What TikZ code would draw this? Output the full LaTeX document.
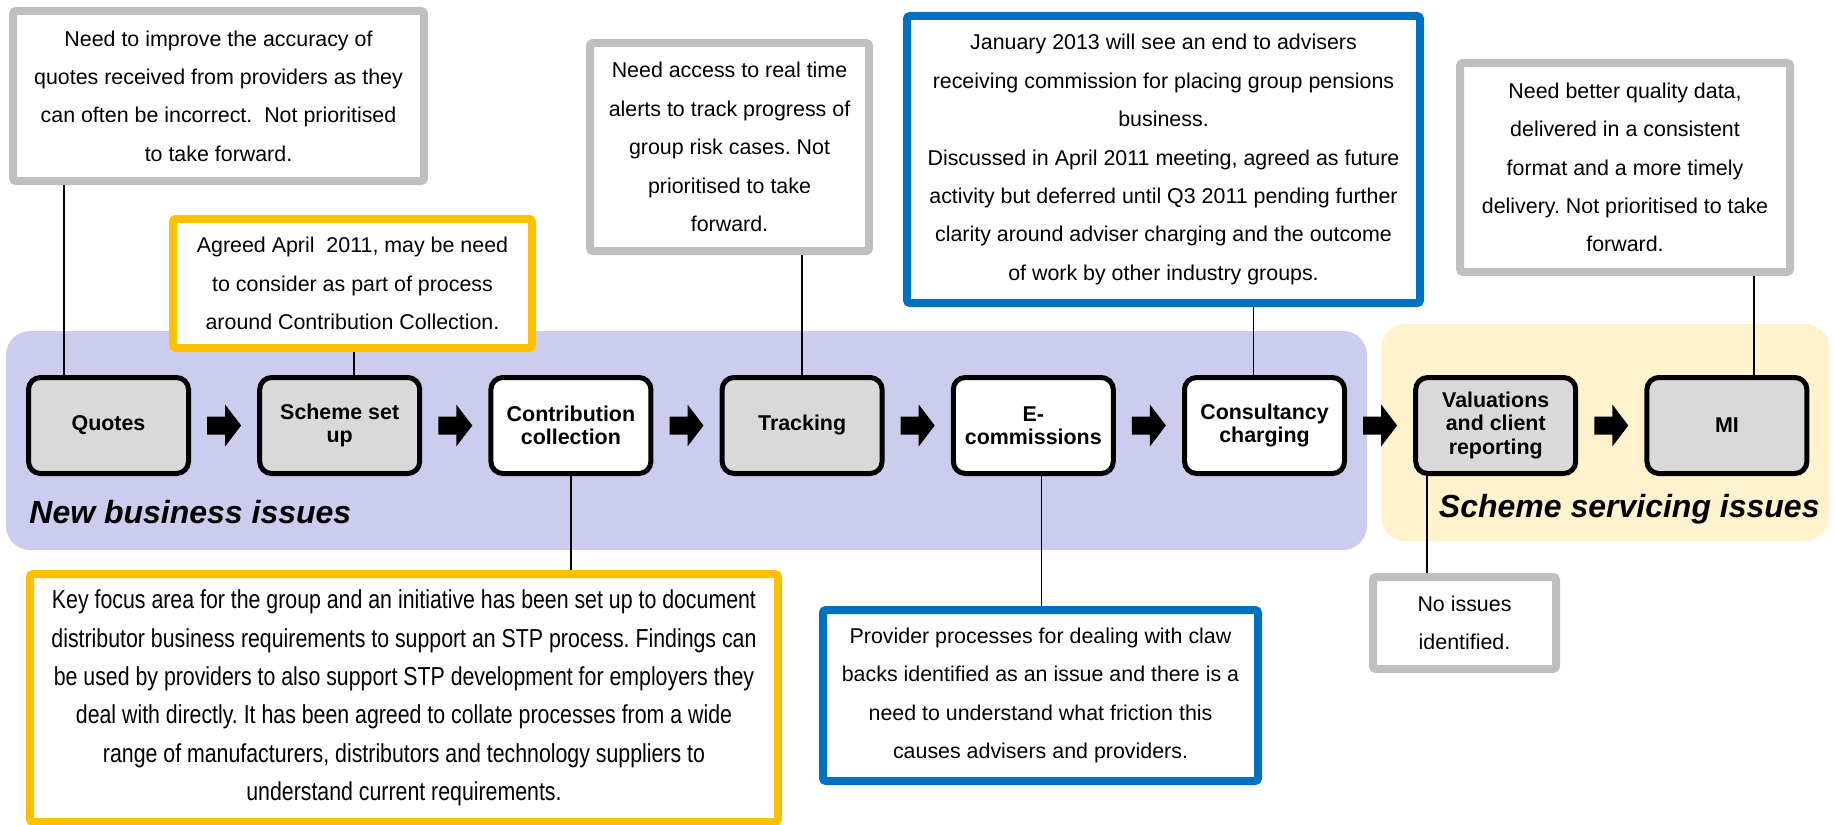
\documentclass[tikz,border=0pt]{standalone}
\usepackage{fontspec}
\setmainfont{Liberation Sans}
\newfontfamily\narrowfont[FakeStretch=0.82]{Liberation Sans}
\usepackage{tikz}
\usetikzlibrary{calc,positioning}
\definecolor{lilas}{RGB}{204,204,238}
\definecolor{creme}{RGB}{255,242,204}
\definecolor{ambre}{RGB}{255,192,0}
\definecolor{bleu}{RGB}{0,112,192}
\definecolor{gris}{RGB}{191,191,191}
\definecolor{grisclair}{RGB}{217,217,217}
\frenchspacing

\begin{document}
\begin{tikzpicture}[x=0.5pt,y=-0.5pt,node distance=33.1pt,
  etape/.style={draw,line width=2.5pt,rounded corners=6pt,minimum width=80pt,
    minimum height=48pt,inner sep=0pt,align=center,
    font=\fontsize{10.7}{11.6}\selectfont\bfseries},
  etapegrise/.style={etape,fill=grisclair},
  etapeblanche/.style={etape,fill=white},
  note/.style={line width=4pt,rounded corners=1.5pt,fill=white,inner sep=0pt,
    align=center,font=\fontsize{10.7}{19.2}\selectfont},
  lien/.style={line width=0.8pt},
  zone/.style={inner sep=0pt,font=\fontsize{16}{19}\selectfont\bfseries\itshape}]
\useasboundingbox (0,0) rectangle (1835,824);
\def\pointer{(-17,-9)-|(1,-21)--(17,0)--(1,21)|-(-17,9)--cycle}

% les deux zones
\fill[lilas,rounded corners=12pt] (6,331) rectangle (1367,550);
\fill[creme,rounded corners=12pt] (1381,324) rectangle (1829,541);
\node[zone,anchor=west] (nb) at (29,512) {New business issues};
\node[zone,anchor=east] (ss) at (1820,509) {Scheme servicing issues};

% les etapes
\node[etapegrise] (quotes) at (108.5,425.5) {Quotes};
\node[etapegrise,right=of quotes] (scheme) {Scheme set\\up};
\node[etapeblanche,right=of scheme] (contrib) {Contribution\\collection};
\node[etapegrise,right=of contrib] (tracking) {Tracking};
\node[etapeblanche,right=of tracking] (ecomm) {E-\\commissions};
\node[etapeblanche,right=of ecomm] (consult) {Consultancy\\charging};
\node[etapegrise,right=of consult] (valuations) {Valuations\\and client\\reporting};
\node[etapegrise,right=of valuations] (mi) {MI};

\foreach \a/\b in {quotes/scheme,scheme/contrib,contrib/tracking,tracking/ecomm,
    ecomm/consult,consult/valuations,valuations/mi}
  \fill[shift={($(\a.east)!0.5!(\b.west)$)}] \pointer;

% les remarques
\node[note,draw=gris,minimum width=205.5pt,minimum height=85pt] (accuracy) at (218.5,96)
  {Need to improve the accuracy of\\quotes received from providers as they\\
   can often be incorrect.\ \ Not prioritised\\to take forward.};
\node[note,draw=ambre,minimum width=179.5pt,minimum height=64.5pt] (agreed) at (352.5,283.5)
  {Agreed April\ \ 2011, may be need\\to consider as part of process\\
   around Contribution Collection.};
\node[note,draw=gris,minimum width=139.5pt,minimum height=104pt] (alerts) at (729.5,147)
  {Need access to real time\\alerts to track progress of\\group risk cases. Not\\
   prioritised to take\\forward.};
\node[note,draw=bleu,minimum width=256.5pt,minimum height=143.5pt] (adviser) at (1163.5,159.5)
  {January 2013 will see an end to advisers\\
   receiving commission for placing group pensions\\business.\\
   Discussed in April 2011 meeting, agreed as future\\
   activity but deferred until Q3 2011 pending further\\
   clarity around adviser charging and the outcome\\
   of work by other industry groups.};
\node[note,draw=gris,minimum width=165pt,minimum height=104.5pt] (quality) at (1625,167.5)
  {Need better quality data,\\delivered in a consistent\\format and a more timely\\
   delivery. Not prioritised to take\\forward.};
\node[note,draw=ambre,minimum width=374pt,minimum height=124pt,
  font=\narrowfont\fontsize{13}{19.2}\selectfont] (stp) at (404,698)
  {Key focus area for the group and an initiative has been set up to document\\
   distributor business requirements to support an STP process. Findings can\\
   be used by providers to also support STP development for employers they\\
   deal with directly. It has been agreed to collate processes from a wide\\
   range of manufacturers, distributors and technology suppliers to\\
   understand current requirements.};
\node[note,draw=bleu,minimum width=217.5pt,minimum height=85.5pt] (clawback) at (1040.5,695.5)
  {Provider processes for dealing with claw\\
   backs identified as an issue and there is a\\
   need to understand what friction this\\causes advisers and providers.};
\node[note,draw=gris,minimum width=91.5pt,minimum height=46pt] (noissues) at (1464.5,623)
  {No issues\\identified.};

% les liens
\coordinate (q) at ([xshift=-22.25pt]quotes.north);
\coordinate (s) at ([xshift=7pt]scheme.north);
\coordinate (e) at ([xshift=4pt]ecomm.south);
\coordinate (c) at ([xshift=-5.5pt]consult.north);
\coordinate (v) at ([xshift=-34.25pt]valuations.south);
\coordinate (m) at ([xshift=13.5pt]mi.north);
\draw[lien] (q) -- (q |- accuracy.south);
\draw[lien] (s) -- (s |- agreed.south);
\draw[lien] (contrib.south) -- (contrib.south |- stp.north);
\draw[lien] (tracking.north) -- (tracking.north |- alerts.south);
\draw[lien] (e) -- (e |- clawback.north);
\draw[lien] (c) -- (c |- adviser.south);
\draw[lien] (v) -- (v |- noissues.north);
\draw[lien] (m) -- (m |- quality.south);
\end{tikzpicture}
\end{document}
